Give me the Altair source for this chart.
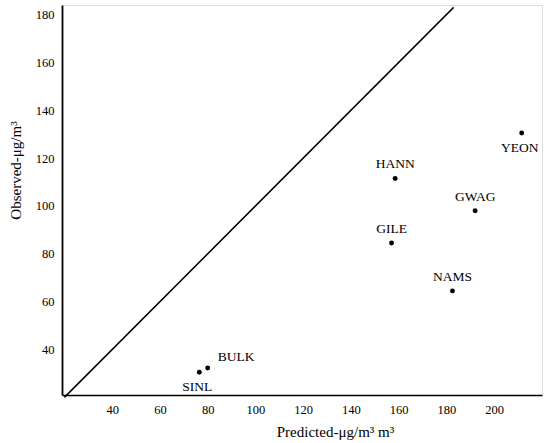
import altair as alt
import pandas as pd

sites = ["SINL", "BULK", "GILE", "HANN", "NAMS", "GWAG", "YEON"]
predicted = [76.5, 80, 157, 158.5, 182.5, 192, 211.5]
observed = [30.5, 32.3, 84.5, 111.5, 64.5, 98, 130.5]
above = ["HANN", "GILE", "GWAG", "NAMS"]
below = ["SINL", "YEON"]
right = ["BULK"]

line_x = [20, 183]
line_y = [20, 183]

x_ticks = [40, 60, 80, 100, 120, 140, 160, 180, 200]
y_ticks = [40, 60, 80, 100, 120, 140, 160, 180]

df = pd.DataFrame({"site": sites, "pred": predicted, "obs": observed})
line_df = pd.DataFrame({"pred": line_x, "obs": line_y})

FONT = "Liberation Serif"

xs = alt.Scale(domain=[19, 220], nice=False, zero=False)
ys = alt.Scale(domain=[21, 184], nice=False, zero=False)

x_axis = alt.Axis(values=x_ticks, title="Predicted-μg/m³  m³", grid=False, ticks=False,
                  labelFont=FONT, labelFontSize=12.5, labelColor="black", labelPadding=8,
                  titleFont=FONT, titleFontSize=15, titleFontWeight="normal", titleColor="black",
                  titleX=273, titlePadding=9, domainColor="black", domainWidth=1.5)
y_axis = alt.Axis(values=y_ticks, title="Observed-μg/m³", grid=False, ticks=False,
                  labelFont=FONT, labelFontSize=12.5, labelColor="black", labelPadding=8,
                  titleFont=FONT, titleFontSize=15, titleFontWeight="normal", titleColor="black",
                  titleY=165, titlePadding=12, domainColor="black", domainWidth=1.8)

line = alt.Chart(line_df).mark_line(color="black", strokeWidth=1.5).encode(
    x=alt.X("pred:Q", scale=xs, axis=x_axis),
    y=alt.Y("obs:Q", scale=ys, axis=y_axis),
)

pts = alt.Chart(df).mark_circle(color="black", opacity=1, size=24).encode(
    x=alt.X("pred:Q", scale=xs),
    y=alt.Y("obs:Q", scale=ys),
)

def labels(names, **kw):
    return alt.Chart(df).transform_filter(
        alt.FieldOneOfPredicate(field="site", oneOf=names)
    ).mark_text(font=FONT, fontSize=13.5, color="black", **kw).encode(
        x=alt.X("pred:Q", scale=xs),
        y=alt.Y("obs:Q", scale=ys),
        text="site:N",
    )

lab_above = labels(above, dy=-14, align="center", baseline="middle")
lab_below = labels(below, dy=15, dx=-2, align="center", baseline="middle")
lab_right = labels(right, dx=10, dy=-11, align="left", baseline="middle")

chart = alt.layer(line, pts, lab_above, lab_below, lab_right).properties(
    width=480, height=390,
    autosize=alt.AutoSizeParams(type="none"),
    padding={"left": 62, "top": 5, "right": 2, "bottom": 48},
).configure_view(stroke=None).configure(background="white")

chart.save("out.html", embed_options={"renderer": "svg", "actions": False})
